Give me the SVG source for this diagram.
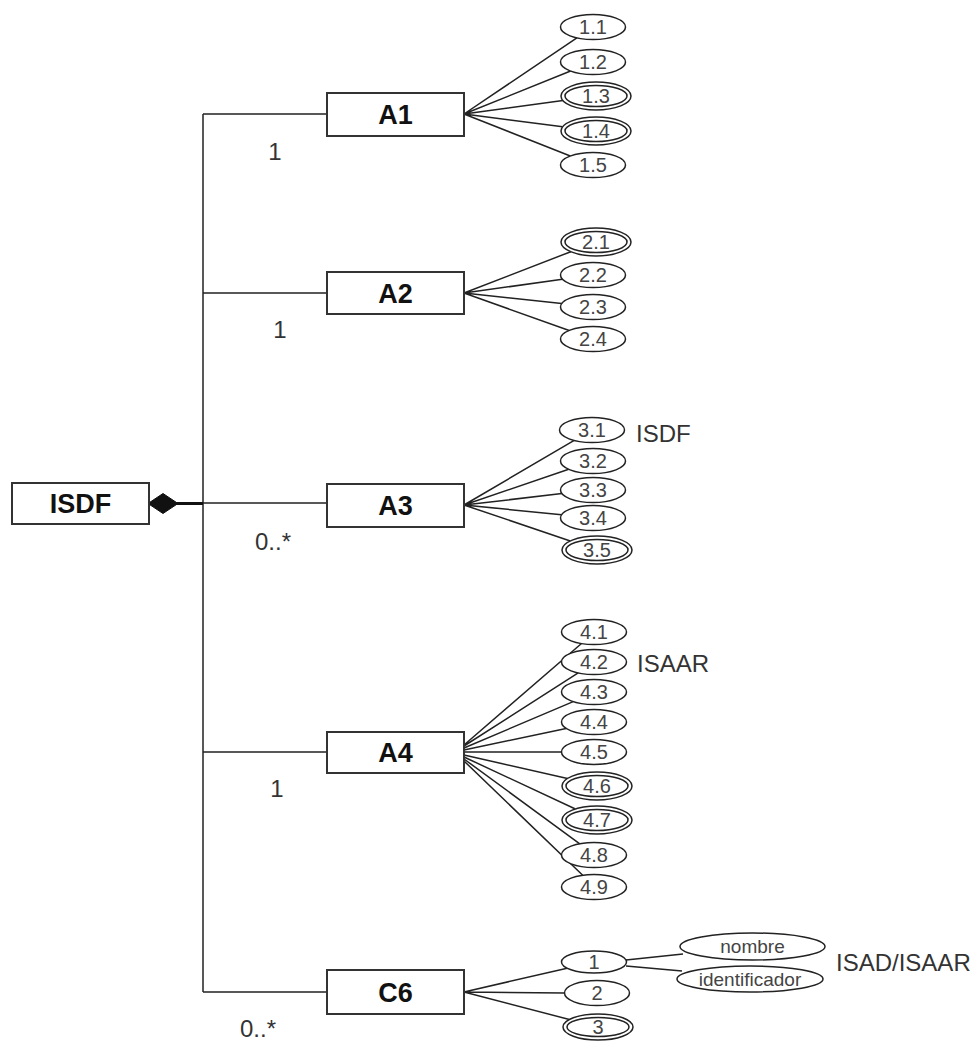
<svg xmlns="http://www.w3.org/2000/svg" width="976" height="1041" viewBox="0 0 976 1041">
<style>
.box{fill:#fff;stroke:#333;stroke-width:2}
.bt{font-family:"Liberation Sans",Arial,sans-serif;font-weight:bold;font-size:27px;fill:#111;text-anchor:middle}
.e{fill:#fff;stroke:#222;stroke-width:1.5}
.et{font-family:"Liberation Sans",Arial,sans-serif;font-size:20px;fill:#444;text-anchor:middle}
.ew{font-family:"Liberation Sans",Arial,sans-serif;font-size:19px;fill:#444;text-anchor:middle}
.lbl{font-family:"Liberation Sans",Arial,sans-serif;font-size:24px;fill:#333}
.c{stroke:#222;stroke-width:1.5;fill:none}
</style>
<rect width="976" height="1041" fill="#fff"/>
<g id="connectors">
<path class="c" d="M203,114 V992 M203,114 H327 M203,293 H327 M203,503 H327 M203,752 H327 M203,992 H327"/>
<path d="M177,503.5 H203" stroke="#111" stroke-width="3"/>
<polygon points="148,503.5 163,493.5 178,503.5 163,513.5" fill="#111" stroke="#111" stroke-width="1"/>
<path class="c" d="M464,114 L576.9,37.9 M464,114 L570.6,71 M464,114 L562.9,100.5 M464,114 L562.7,126.7 M464,114 L570.3,156"/>
<path class="c" d="M464,293 L570.8,251.7 M464,293 L562.4,279.3 M464,293 L561.7,303.6 M464,293 L569.2,330.5"/>
<path class="c" d="M464,505 L574.2,440.4 M464,505 L568.7,469.3 M464,505 L561.9,493.6 M464,505 L561.6,514.8 M464,505 L570.3,541"/>
<path class="c" d="M464,745 L581.5,643.5 M464,746 L578.2,672.9 M464,748 L573.2,701.6 M464,750 L566.1,728.4 M464,752 L561.5,752 M464,755 L567.5,778.5 M464,757 L575.4,809 M464,759 L579.8,843.8 M464,761 L582.7,875.3"/>
<path class="c" d="M464,992 L567.1,968.2 M464,992 L564.5,993 M464,992 L569.4,1019.5"/>
<path class="c" d="M626,960 L683,954 M626,966 L682,971"/>
<text class="lbl" x="275" y="160" text-anchor="middle">1</text>
<text class="lbl" x="280" y="338" text-anchor="middle">1</text>
<text class="lbl" x="255" y="550">0..*</text>
<text class="lbl" x="277" y="797" text-anchor="middle">1</text>
<text class="lbl" x="240" y="1037">0..*</text>
</g>
<g id="ISDF"><rect class="box" x="12" y="483" width="137" height="41"/><text class="bt" x="80.5" y="513">ISDF</text></g>
<g id="A1"><rect class="box" x="327" y="93" width="137" height="43"/><text class="bt" x="395.5" y="124">A1</text></g>
<g id="A2"><rect class="box" x="327" y="272" width="137" height="42"/><text class="bt" x="395.5" y="303">A2</text></g>
<g id="A3"><rect class="box" x="327" y="484" width="137" height="43"/><text class="bt" x="395.5" y="515">A3</text></g>
<g id="A4"><rect class="box" x="327" y="732" width="137" height="41"/><text class="bt" x="395.5" y="762">A4</text></g>
<g id="C6"><rect class="box" x="327" y="970" width="137" height="44"/><text class="bt" x="395.5" y="1002">C6</text></g>
<g id="e1.1"><ellipse class="e" cx="593" cy="27" rx="32.5" ry="12.5"/><text class="et" x="593" y="34">1.1</text></g>
<g id="e1.2"><ellipse class="e" cx="593" cy="62" rx="32.5" ry="12.5"/><text class="et" x="593" y="69">1.2</text></g>
<g id="e1.3"><ellipse class="e" cx="596" cy="96" rx="35" ry="14"/><ellipse class="e" cx="596" cy="96" rx="31" ry="10.5"/><text class="et" x="596" y="103">1.3</text></g>
<g id="e1.4"><ellipse class="e" cx="596" cy="131" rx="35" ry="14"/><ellipse class="e" cx="596" cy="131" rx="31" ry="10.5"/><text class="et" x="596" y="138">1.4</text></g>
<g id="e1.5"><ellipse class="e" cx="593" cy="165" rx="32.5" ry="12.5"/><text class="et" x="593" y="172">1.5</text></g>
<g id="e2.1"><ellipse class="e" cx="596" cy="242" rx="35" ry="14"/><ellipse class="e" cx="596" cy="242" rx="31" ry="10.5"/><text class="et" x="596" y="249">2.1</text></g>
<g id="e2.2"><ellipse class="e" cx="593" cy="275" rx="32.5" ry="12.5"/><text class="et" x="593" y="282">2.2</text></g>
<g id="e2.3"><ellipse class="e" cx="593" cy="307" rx="32.5" ry="12.5"/><text class="et" x="593" y="314">2.3</text></g>
<g id="e2.4"><ellipse class="e" cx="593" cy="339" rx="32.5" ry="12.5"/><text class="et" x="593" y="346">2.4</text></g>
<g id="e3.1"><ellipse class="e" cx="592" cy="430" rx="32.5" ry="12.5"/><text class="et" x="592" y="437">3.1</text></g>
<g id="e3.2"><ellipse class="e" cx="593" cy="461" rx="32.5" ry="12.5"/><text class="et" x="593" y="468">3.2</text></g>
<g id="e3.3"><ellipse class="e" cx="593" cy="490" rx="32.5" ry="12.5"/><text class="et" x="593" y="497">3.3</text></g>
<g id="e3.4"><ellipse class="e" cx="593" cy="518" rx="32.5" ry="12.5"/><text class="et" x="593" y="525">3.4</text></g>
<g id="e3.5"><ellipse class="e" cx="597" cy="550" rx="35" ry="14"/><ellipse class="e" cx="597" cy="550" rx="31" ry="10.5"/><text class="et" x="597" y="557">3.5</text></g>
<g id="e4.1"><ellipse class="e" cx="594" cy="632" rx="32.5" ry="12.5"/><text class="et" x="594" y="639">4.1</text></g>
<g id="e4.2"><ellipse class="e" cx="594" cy="662" rx="32.5" ry="12.5"/><text class="et" x="594" y="669">4.2</text></g>
<g id="e4.3"><ellipse class="e" cx="594" cy="692" rx="32.5" ry="12.5"/><text class="et" x="594" y="699">4.3</text></g>
<g id="e4.4"><ellipse class="e" cx="594" cy="722" rx="32.5" ry="12.5"/><text class="et" x="594" y="729">4.4</text></g>
<g id="e4.5"><ellipse class="e" cx="594" cy="752" rx="32.5" ry="12.5"/><text class="et" x="594" y="759">4.5</text></g>
<g id="e4.6"><ellipse class="e" cx="597" cy="786" rx="35" ry="14"/><ellipse class="e" cx="597" cy="786" rx="31" ry="10.5"/><text class="et" x="597" y="793">4.6</text></g>
<g id="e4.7"><ellipse class="e" cx="597" cy="820" rx="35" ry="14"/><ellipse class="e" cx="597" cy="820" rx="31" ry="10.5"/><text class="et" x="597" y="827">4.7</text></g>
<g id="e4.8"><ellipse class="e" cx="594" cy="855" rx="32.5" ry="12.5"/><text class="et" x="594" y="862">4.8</text></g>
<g id="e4.9"><ellipse class="e" cx="594" cy="887" rx="32.5" ry="12.5"/><text class="et" x="594" y="894">4.9</text></g>
<g id="c1"><ellipse class="e" cx="594" cy="962" rx="32.5" ry="11"/><text class="et" x="594" y="969">1</text></g>
<g id="c2"><ellipse class="e" cx="597" cy="993" rx="32.5" ry="12.5"/><text class="et" x="597" y="1000">2</text></g>
<g id="c3"><ellipse class="e" cx="598" cy="1027" rx="35" ry="13"/><ellipse class="e" cx="598" cy="1027" rx="31" ry="9.5"/><text class="et" x="598" y="1034">3</text></g>
<g id="nombre"><ellipse class="e" cx="752.5" cy="946.5" rx="72.5" ry="13.5"/><text class="ew" x="752.5" y="953">nombre</text></g>
<g id="identificador"><ellipse class="e" cx="750" cy="979" rx="73" ry="13"/><text class="ew" x="750" y="985.5">identificador</text></g>
<g id="labels">
<text class="lbl" x="636" y="442">ISDF</text>
<text class="lbl" x="637" y="672">ISAAR</text>
<text class="lbl" x="836" y="971">ISAD/ISAAR</text>
</g>
</svg>
